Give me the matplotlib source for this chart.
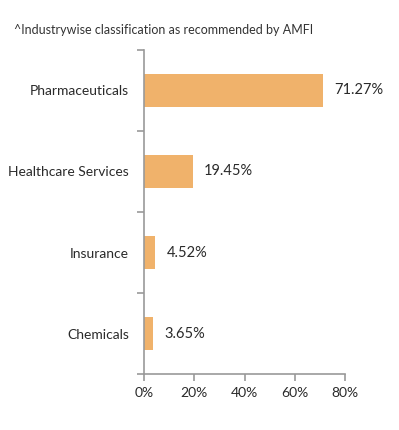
import matplotlib.pyplot as plt
from matplotlib.ticker import FuncFormatter

categories = ["Pharmaceuticals", "Healthcare Services", "Insurance", "Chemicals"]
weights = [71.27, 19.45, 4.52, 3.65]
value_labels = ["71.27%", "19.45%", "4.52%", "3.65%"]
x_ticks = [0, 20, 40, 60, 80]

plt.rcParams["font.family"] = ["Lato", "DejaVu Sans"]

fig = plt.figure(figsize=(3.99, 4.30), dpi=100)
ax = fig.add_axes([0.361, 0.130, 0.504, 0.754])

# categories top to bottom
pos = list(range(len(categories)))[::-1]
ax.barh(pos, weights, height=0.4, color="#F0B26B")

for p, w, lab in zip(pos, weights, value_labels):
    ax.annotate(lab, (w, p), xytext=(8, 0), textcoords="offset points",
                ha="left", va="center", fontsize=10.5, color="#2a2a2a")

ax.set_xlim(0, 80)
ax.set_ylim(-0.5, len(categories) - 0.5)
ax.set_xticks(x_ticks)
ax.xaxis.set_major_formatter(FuncFormatter(lambda v, _: "{:.0f}%".format(v)))
ax.set_yticks(pos)
ax.set_yticklabels(categories)
ax.set_yticks([i - 0.5 for i in range(len(categories) + 1)], minor=True)

ax.tick_params(axis="y", which="major", length=0, pad=11, labelsize=10,
               labelcolor="#2a2a2a")
ax.tick_params(axis="y", which="minor", length=5, color="#999999", width=1.2)
ax.tick_params(axis="x", length=5, color="#999999", width=1.2, labelsize=10,
               labelcolor="#2a2a2a", pad=4)

for s in ["top", "right"]:
    ax.spines[s].set_visible(False)
for s in ["left", "bottom"]:
    ax.spines[s].set_color("#999999")
    ax.spines[s].set_linewidth(1.2)

fig.text(0.035, 0.93, "^Industrywise classification as recommended by AMFI",
         fontsize=9, color="#333333", va="center")

plt.savefig("out.png", dpi=100)
